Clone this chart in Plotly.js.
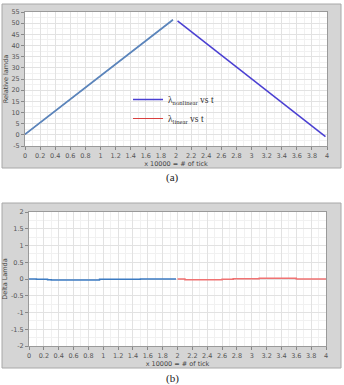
<!DOCTYPE html>
<html>
<head>
<meta charset="utf-8">
<script src="https://cdn.plot.ly/plotly-3.0.1.min.js"></script>
<style>html,body{margin:0;padding:0;background:#fff;}#chart{width:344px;height:385px;}</style>
</head>
<body>
<div id="chart"></div>
<script>
// ---- data ----
const tUp = [0, 0.25, 0.5, 0.75, 1, 1.25, 1.5, 1.75, 1.96];
const lamUp = [0.2, 6.7, 13.3, 19.8, 26.3, 32.8, 39.3, 45.9, 51.5];
const tDown = [2.02, 2.25, 2.5, 2.75, 3, 3.25, 3.5, 3.75, 3.98];
const lamDown = [51, 44.9, 38.3, 31.7, 25.1, 18.5, 11.9, 5.3, -0.8];

const tDeltaA = [0, 0.1, 0.25, 0.3, 0.95, 1.5, 1.98];
const deltaA = [0, -0.01, -0.02, -0.03, -0.01, 0.0, 0.0];
const tDeltaB = [2.0, 2.1, 2.6, 2.75, 3.1, 3.6, 4.0];
const deltaB = [0.0, -0.02, -0.01, 0.01, 0.02, 0.0, 0.0];

const xTicks = [0,0.2,0.4,0.6,0.8,1,1.2,1.4,1.6,1.8,2,2.2,2.4,2.6,2.8,3,3.2,3.4,3.6,3.8,4];
const xTickText = ["0","0.2","0.4","0.6","0.8","1","1.2","1.4","1.6","1.8","2","2.2","2.4","2.6","2.8","3","3.2","3.4","3.6","3.8","4"];
const yTopTicks = [-5,0,5,10,15,20,25,30,35,40,45,50,55];
const yTopText = ["-5","0","5","10","15","20","25","30","35","40","45","50","55"];
const yBotTicks = [-2,-1.5,-1,-0.5,0,0.5,1,1.5,2];
const yBotText = ["-2","-1.5","-1","-0.5","0","0.5","1","1.5","2"];

const W = 344, H = 385;
const px = v => v / W;
const py = v => 1 - v / H;

const tickFont = {family: 'DejaVu Sans, sans-serif', size: 6.5, color: '#555'};
const titleFont = {family: 'DejaVu Sans, sans-serif', size: 6.5, color: '#444'};

function xAxis(domain, anchor) {
  return {
    domain: domain, anchor: anchor, range: [0, 4],
    tickvals: xTicks, ticktext: xTickText, tickfont: tickFont,
    ticks: 'outside', ticklen: 3, tickcolor: '#888',
    showgrid: true, gridcolor: '#e2e2e2', gridwidth: 1,
    minor: {dtick: 0.1, showgrid: true, gridcolor: '#f1f1f1', ticks: ''},
    showline: true, linecolor: '#9a9a9a', mirror: true, zeroline: false,
    title: {text: 'x 10000 = # of tick', font: titleFont, standoff: 0}
  };
}

const traces = [
  {x: tUp, y: lamUp, xaxis: 'x', yaxis: 'y', mode: 'lines', name: 'λ<sub>linear</sub> vs t',
   line: {color: '#d9403f', width: 1}, legendrank: 2},
  {x: tUp, y: lamUp, xaxis: 'x', yaxis: 'y', mode: 'lines', showlegend: false,
   line: {color: '#5a86bd', width: 1.8}},
  {x: tDown, y: lamDown, xaxis: 'x', yaxis: 'y', mode: 'lines', name: 'λ<sub>nonlinear</sub> vs t',
   line: {color: '#4a3fd2', width: 1.5}, legendrank: 1},
  {x: tDeltaA, y: deltaA, xaxis: 'x2', yaxis: 'y2', mode: 'lines', showlegend: false,
   line: {color: '#3c7bc2', width: 1.5, shape: 'hv'}},
  {x: tDeltaB, y: deltaB, xaxis: 'x2', yaxis: 'y2', mode: 'lines', showlegend: false,
   line: {color: '#f07272', width: 1.5, shape: 'hv'}}
];

const layout = {
  width: W, height: H,
  margin: {l: 0, r: 0, t: 0, b: 0},
  paper_bgcolor: '#ffffff', plot_bgcolor: '#ffffff',
  showlegend: true,
  legend: {x: px(128), y: py(85), xanchor: 'left', yanchor: 'top',
           bgcolor: 'rgba(0,0,0,0)', borderwidth: 0,
           font: {family: 'Liberation Serif, serif', size: 9.5, color: '#333'},
           tracegroupgap: 0, itemwidth: 30},
  xaxis: xAxis([px(25), px(327)], 'y'),
  yaxis: {
    domain: [py(146), py(12)], anchor: 'x', range: [-5, 55],
    tickvals: yTopTicks, ticktext: yTopText, tickfont: tickFont,
    ticks: 'outside', ticklen: 3, tickcolor: '#888',
    showgrid: true, gridcolor: '#e2e2e2',
    minor: {dtick: 2.5, showgrid: true, gridcolor: '#f1f1f1', ticks: ''},
    showline: true, linecolor: '#9a9a9a', mirror: true, zeroline: false,
    title: {text: 'Relative lamda', font: titleFont, standoff: 2}
  },
  xaxis2: xAxis([px(29), px(326)], 'y2'),
  yaxis2: {
    domain: [py(346), py(212)], anchor: 'x2', range: [-2, 2],
    tickvals: yBotTicks, ticktext: yBotText, tickfont: tickFont,
    ticks: 'outside', ticklen: 3, tickcolor: '#888',
    showgrid: true, gridcolor: '#e2e2e2',
    minor: {dtick: 0.25, showgrid: true, gridcolor: '#f1f1f1', ticks: ''},
    showline: true, linecolor: '#9a9a9a', mirror: true, zeroline: false,
    title: {text: 'Delta Lamda', font: titleFont, standoff: 2}
  },
  shapes: [
    {type: 'rect', xref: 'paper', yref: 'paper', layer: 'below',
     x0: px(2), x1: px(341), y0: py(168), y1: py(4),
     fillcolor: '#d5d5d5', line: {color: '#a8a8a8', width: 1}},
    {type: 'rect', xref: 'paper', yref: 'paper', layer: 'below',
     x0: px(2), x1: px(341), y0: py(368), y1: py(203),
     fillcolor: '#d5d5d5', line: {color: '#a8a8a8', width: 1}},
    {type: 'rect', xref: 'paper', yref: 'paper', layer: 'below',
     x0: px(25), x1: px(327), y0: py(146), y1: py(12),
     fillcolor: '#ffffff', line: {width: 0}},
    {type: 'rect', xref: 'paper', yref: 'paper', layer: 'below',
     x0: px(29), x1: px(326), y0: py(346), y1: py(212),
     fillcolor: '#ffffff', line: {width: 0}}
  ],
  annotations: [
    {text: '(a)', xref: 'paper', yref: 'paper', x: 0.5, y: py(178), showarrow: false,
     font: {family: 'Liberation Serif, serif', size: 11, color: '#222'}},
    {text: '(b)', xref: 'paper', yref: 'paper', x: 0.5, y: py(378), yanchor: 'middle', showarrow: false,
     font: {family: 'Liberation Serif, serif', size: 11, color: '#222'}}
  ]
};

Plotly.newPlot('chart', traces, layout, {displayModeBar: false, staticPlot: true});
</script>
</body>
</html>
